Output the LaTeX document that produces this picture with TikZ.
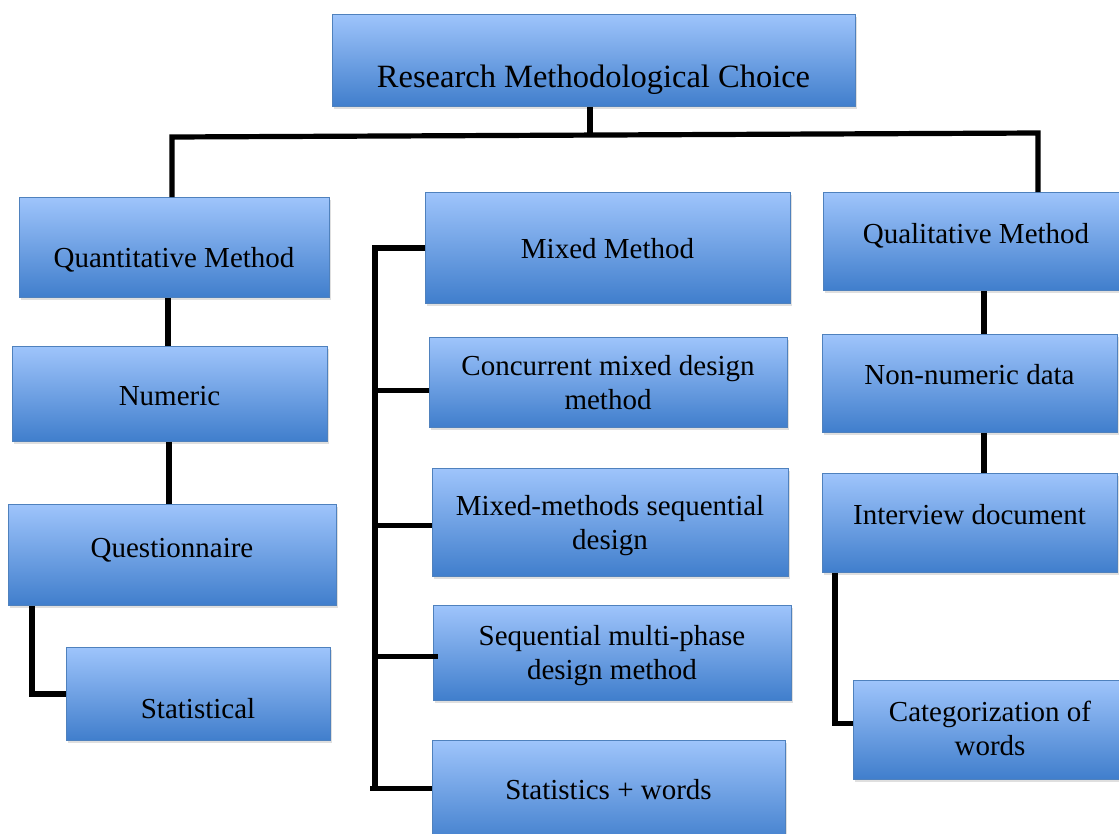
\documentclass[tikz,border=0pt]{standalone}
\usepackage{fontspec}
\setmainfont{Liberation Serif}
\usetikzlibrary{calc,shadows}
\definecolor{boxtop}{RGB}{158,196,251}
\definecolor{boxbot}{RGB}{64,126,204}
\definecolor{boxline}{RGB}{79,129,189}
\tikzset{
  box/.style={draw=boxline, line width=0.9pt, top color=boxtop, bottom color=boxbot,
    inner sep=0pt, anchor=north west,
    drop shadow={shadow xshift=2pt, shadow yshift=-3pt, opacity=0.25}},
  lbl/.style={font=\fontsize{29}{34}\selectfont, inner sep=0pt, align=center},
  conn/.style={line width=5.2pt, black, line join=miter}
}
% box from its top-left corner (x0,y0) to bottom-right corner (x1,y1)
\newcommand{\pbox}[5]{\node[box, minimum width={(#4-#2)*1pt}, minimum height={(#5-#3)*1pt}] (#1) at (#2,#3) {};}
\begin{document}
\begin{tikzpicture}[x=1pt,y=-1pt]
\useasboundingbox (0,0) rectangle (1119,833);

% boxes
\pbox{root}{332}{14}{855}{106}
\pbox{quant}{19}{197}{329}{297}
\pbox{num}{12}{346}{327}{441}
\pbox{quest}{8}{504}{336}{605}
\pbox{stat}{66}{647}{330}{740}
\pbox{mixed}{425}{192}{790}{303}
\pbox{conc}{429}{337}{787}{427}
\pbox{seq}{432}{468}{788}{576}
\pbox{multi}{433}{605}{791}{700}
\pbox{stw}{432}{740}{785}{845}
\pbox{qual}{823}{192}{1127}{290}
\pbox{nonnum}{822}{334}{1117}{432}
\pbox{intv}{822}{473}{1117}{572}
\pbox{cat}{853}{680}{1127}{779}

% labels (anchored on the baseline of the last line)
\node[lbl, font=\fontsize{32.5}{36}\selectfont, anchor=base] (rootT) at (593.5,87) {Research Methodological Choice};
\node[lbl, anchor=base] (quantT) at (174,267) {Quantitative Method};
\node[lbl, anchor=base] (numT) at (169.5,405) {Numeric};
\node[lbl, anchor=base] (questT) at (172,557) {Questionnaire};
\node[lbl, anchor=base] (statT) at (198,718) {Statistical};
\node[lbl, anchor=base] (mixedT) at (607.5,258) {Mixed Method};
\node[lbl, anchor=base] (concT) at (608,409) {Concurrent mixed design\\method};
\node[lbl, anchor=base] (seqT) at (610,549) {Mixed-methods sequential\\design};
\node[lbl, anchor=base] (multiT) at (612,679) {Sequential multi-phase\\design method};
\node[lbl, anchor=base] (stwT) at (608.5,799) {Statistics + words};
\node[lbl, anchor=base] (qualT) at (976,243) {Qualitative Method};
\node[lbl, anchor=base] (nonnumT) at (969.5,384) {Non-numeric data};
\node[lbl, anchor=base] (intvT) at (969.5,524) {Interview document};
\node[lbl, anchor=base] (catT) at (990,755) {Categorization of\\words};

% connectors
\coordinate (jL) at (172,137);
\coordinate (jR) at (1038,133);
\coordinate (bus) at (375,0);
\coordinate (qx) at (984,0);
\draw[conn] ($(root.south)+(-4,0)$) -- ++(0,29);
\draw[conn] (quant.north -| jL) -- (jL) -- (jR) -- (qual.north -| jR);
\draw[conn] (quant.south -| 168,0) -- (num.north -| 168,0);
\draw[conn] (num.south -| 169,0) -- (quest.north -| 169,0);
\draw[conn] ($(quest.south west)+(24,0)$) |- (stat.west);
\draw[conn] (mixed.west) -- (mixed.west -| bus) -- ($(stw.west -| bus)+(0,-4.5)$) -- ($(stw.west)+(0,-4.5)$);
\draw[conn] ($(stw.west -| bus)+(-5,-4.5)$) -- ($(stw.west -| bus)+(0,-4.5)$);
\draw[conn] ($(conc.west -| bus)+(0,8)$) -- ($(conc.west)+(0,8)$);
\draw[conn] ($(seq.west -| bus)+(0,3)$) -- ($(seq.west)+(0,3)$);
\draw[conn] ($(multi.west -| bus)+(0,3.5)$) -- ($(multi.west)+(5,3.5)$);
\draw[conn] (qual.south -| qx) -- (nonnum.north -| qx);
\draw[conn] (nonnum.south -| qx) -- (intv.north -| qx);
\draw[conn] ($(intv.south west)+(13,0)$) |- ($(cat.west)+(0,-6.5)$);
\end{tikzpicture}
\end{document}
